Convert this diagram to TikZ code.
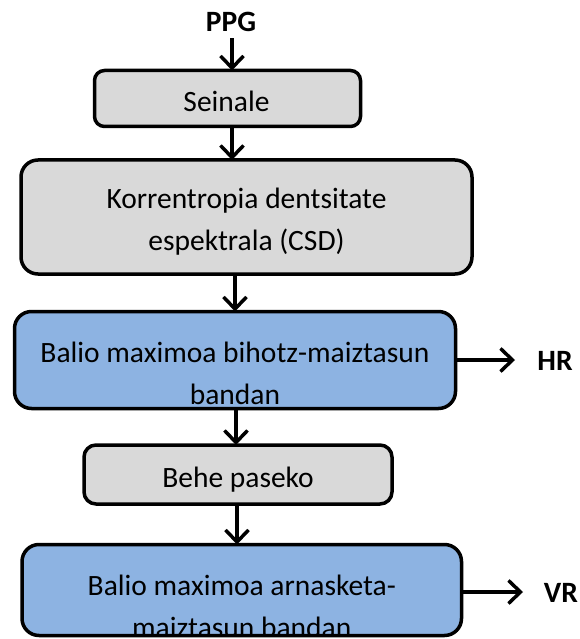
\documentclass[tikz,border=0pt]{standalone}
\usepackage{fontspec}
\setmainfont{Carlito}
\usetikzlibrary{arrows.meta}
\definecolor{boxgray}{HTML}{D9D9D9}
\definecolor{boxblue}{HTML}{8DB3E2}
\begin{document}
\begin{tikzpicture}[x=1pt,y=-1pt,
  box/.style={draw=black, line width=3.5pt, inner sep=0pt, outer sep=0pt},
  graybox/.style={box, fill=boxgray},
  bluebox/.style={box, fill=boxblue},
  txt/.style={font=\fontsize{29.5}{42}\selectfont, align=center, inner sep=0pt, anchor=base},
  lbl/.style={font=\fontsize{29.5}{34}\selectfont\bfseries, inner sep=0pt, anchor=base},
  arr/.style={line width=3.5pt, -{Straight Barb[length=12pt,width=23pt]}}]
\useasboundingbox (0,0) rectangle (579,639);

% boxes
\node[graybox, minimum width=266pt, minimum height=56pt, rounded corners=10pt] (seinale) at (227.5,98.5) {};
\node[graybox, minimum width=451pt, minimum height=114pt, rounded corners=17pt] (csd) at (246.5,217) {};
\node[bluebox, minimum width=441pt, minimum height=97pt, rounded corners=17pt] (hr) at (235,360) {};
\node[graybox, minimum width=308pt, minimum height=59pt, rounded corners=12pt] (behe) at (238,474.5) {};
\node[bluebox, minimum width=439.5pt, minimum height=91pt, rounded corners=17pt] (vr) at (241.75,590) {};

% texts (base anchor = baseline of the last line)
\node[txt] (seinaletxt) at (226.5,112) {Seinale};
\node[txt] (csdtxt) at (246.5,250) {Korrentropia dentsitate\\espektrala (CSD)};
\begin{scope}
  \clip ([shift={(1.75,-1.75)}]hr.south west) rectangle ([shift={(-1.75,1.75)}]hr.north east);
  \node[txt] (hrtxt) at (235,404) {Balio maximoa bihotz-maiztasun\\bandan};
\end{scope}
\node[txt] (behetxt) at (238,487) {Behe paseko};
\begin{scope}
  \clip ([shift={(1.75,-1.75)}]vr.south west) rectangle ([shift={(-1.75,1.75)}]vr.north east);
  \node[txt] (vrtxt) at (241.75,637) {Balio maximoa arnasketa-\\maiztasun bandan};
\end{scope}

% labels
\node[lbl] (ppg) at (231,32) {PPG};
\node[lbl] (hrlbl) at (555,370) {HR};
\node[lbl] (vrlbl) at (561,602) {VR};

% connector columns
\coordinate (c1) at (232,0);
\coordinate (c2) at (232,0);
\coordinate (c3) at (235,0);
\coordinate (c4) at (236,0);
\coordinate (c5) at (237,0);
\coordinate (hrend) at (515,360);
\coordinate (vrend) at (523,592);

\draw[arr] ([yshift=-6pt]ppg.south -| c1) -- (seinale.north -| c1);
\draw[arr] (seinale.south -| c2) -- (csd.north -| c2);
\draw[arr] (csd.south -| c3) -- (hr.north -| c3);
\draw[arr] (hr.south -| c4) -- (behe.north -| c4);
\draw[arr] (behe.south -| c5) -- (vr.north -| c5);
\draw[arr] (hr.east |- hrend) -- (hrend);
\draw[arr] (vr.east |- vrend) -- (vrend);
\end{tikzpicture}
\end{document}
